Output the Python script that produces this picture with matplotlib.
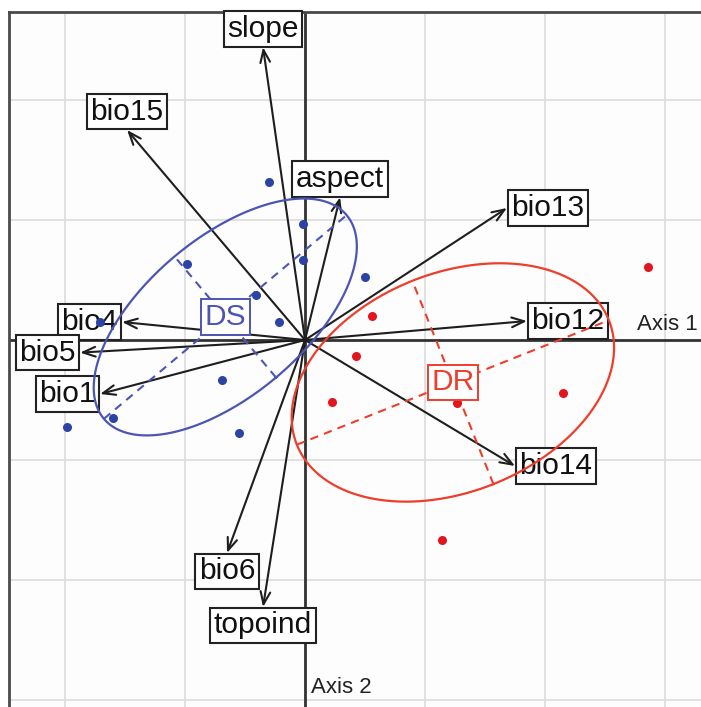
import numpy as np
import matplotlib
matplotlib.use("Agg")
import matplotlib.pyplot as plt

plt.rcParams['font.family'] = ['Liberation Sans', 'DejaVu Sans']

# Variable loadings (arrow tips), grid step = 1
var_names = ["slope", "bio15", "aspect", "bio13", "bio12", "bio14",
             "bio4", "bio5", "bio1", "bio6", "topoind"]
var_x = [-0.35, -1.483, 0.292, 1.683, 1.85, 1.75, -1.525, -1.875, -1.708, -0.65, -0.35]
var_y = [2.44, 1.75, 1.19, 1.10, 0.158, -1.05, 0.15, -0.105, -0.45, -1.775, -2.225]

# Site scores, class DS
ds_x = [-0.30, -0.017, -0.017, -0.983, -0.408, -0.217, 0.50, -1.708, -0.692, -1.60, -1.983, -0.55]
ds_y = [1.317, 0.967, 0.667, 0.633, 0.375, 0.15, 0.525, 0.15, -0.333, -0.65, -0.725, -0.775]

# Site scores, class DR
dr_x = [2.858, 0.558, 0.425, 0.225, 1.267, 2.15, 1.142]
dr_y = [0.608, 0.20, -0.133, -0.517, -0.525, -0.442, -1.667]

fig = plt.figure(figsize=(7.01, 7.07), dpi=100)
ax = fig.add_axes([9 / 701, 0, 692 / 701, 695 / 707])
ax.set_xlim(-2.467, 3.3)
ax.set_ylim(-3.058, 2.733)
ax.set_xticks([])
ax.set_yticks([])
for side in ['right', 'bottom']:
    ax.spines[side].set_visible(False)
for side in ['left', 'top']:
    ax.spines[side].set_color('#4a4a4a')
    ax.spines[side].set_linewidth(2)
ax.set_facecolor('#fdfdfd')

# grid
for g in range(-2, 4):
    ax.axvline(g, color='#dedede', lw=1.3, zorder=0)
for g in range(-3, 3):
    ax.axhline(g, color='#dedede', lw=1.3, zorder=0)
ax.axhline(0, color='#333333', lw=2, zorder=1)
ax.axvline(0, color='#333333', lw=2, zorder=1)

ax.text(3.27, 0.04, "Axis 1", ha='right', va='bottom', fontsize=16, color='#222222')
ax.text(0.05, -2.98, "Axis 2", ha='left', va='bottom', fontsize=16, color='#222222')

# arrows + labels
fs = 21.5
off = 3.0
for name, x, y in zip(var_names, var_x, var_y):
    ax.annotate('', xy=(x, y), xytext=(0, 0),
                arrowprops=dict(arrowstyle='->,head_length=0.9,head_width=0.35',
                                lw=1.5, color='#1e1e1e', shrinkA=0, shrinkB=0),
                zorder=3)
    if abs(x) > abs(y):
        ha = 'left' if x > 0 else 'right'
        va = 'center'
        dx, dy = (off if x > 0 else -off), 0
    else:
        ha = 'center'
        va = 'bottom' if y > 0 else 'top'
        dx, dy = 0, (off if y > 0 else -off)
    ax.annotate(name, xy=(x, y), xytext=(dx, dy), textcoords='offset points',
                ha=ha, va=va, fontsize=fs, color='#111111', zorder=4,
                bbox=dict(boxstyle='square,pad=0.12', fc='white', ec='#222222', lw=1.5))


def draw_class(px, py, line_col, pt_col, name):
    pts = np.column_stack([px, py])
    c = pts.mean(axis=0)
    cov = np.cov(pts.T, bias=True)
    vals, vecs = np.linalg.eigh(cov)
    semi = 1.5 * np.sqrt(vals)
    t = np.linspace(0, 2 * np.pi, 300)
    ell = c + (vecs @ (semi[:, None] * np.vstack([np.cos(t), np.sin(t)]))).T
    ax.plot(ell[:, 0], ell[:, 1], color=line_col, lw=1.6, zorder=5)
    for k in range(2):
        p1 = c + semi[k] * vecs[:, k]
        p2 = c - semi[k] * vecs[:, k]
        ax.plot([p1[0], p2[0]], [p1[1], p2[1]], color=line_col, lw=1.5,
                ls=(0, (4, 3)), zorder=5)
    ax.plot(px, py, 'o', color=pt_col, ms=6.5, mec='none', zorder=6)
    ax.text(c[0], c[1], name, ha='center', va='center', fontsize=fs, color=line_col,
            zorder=7, bbox=dict(boxstyle='square,pad=0.12', fc='white', ec=line_col, lw=1.4))


draw_class(ds_x, ds_y, '#4b55b3', '#2c43a6', "DS")
draw_class(dr_x, dr_y, '#ee3e2b', '#e3141e', "DR")

fig.savefig("out.png", dpi=100)
